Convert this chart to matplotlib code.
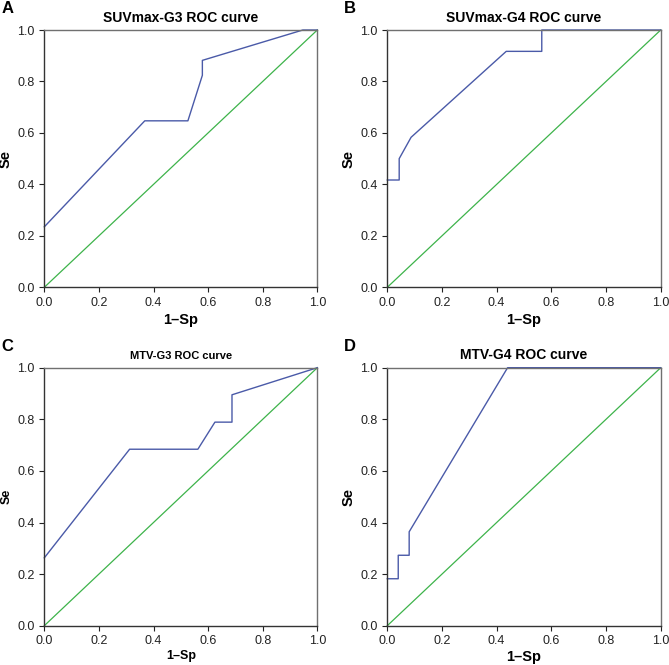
import matplotlib
matplotlib.use("Agg")
import matplotlib.pyplot as plt

plt.rcParams['font.family'] = ['Liberation Sans', 'DejaVu Sans']

# puntos de las curvas ROC (1-Sp, Se)
suv_g3_x = [0.0, 0.368, 0.526, 0.579, 0.579, 0.947, 1.0]
suv_g3_y = [0.235, 0.647, 0.647, 0.824, 0.882, 1.0, 1.0]

suv_g4_x = [0.0, 0.0435, 0.0435, 0.087, 0.435, 0.565, 0.565, 1.0]
suv_g4_y = [0.417, 0.417, 0.5, 0.583, 0.917, 0.917, 1.0, 1.0]

mtv_g3_x = [0.0, 0.3125, 0.5625, 0.625, 0.6875, 0.6875, 1.0]
mtv_g3_y = [0.263, 0.684, 0.684, 0.789, 0.789, 0.895, 1.0]

mtv_g4_x = [0.0, 0.04, 0.04, 0.08, 0.08, 0.44, 1.0]
mtv_g4_y = [0.182, 0.182, 0.273, 0.273, 0.364, 1.0, 1.0]

titles = ['SUVmax-G3 ROC curve', 'SUVmax-G4 ROC curve', 'MTV-G3 ROC curve', 'MTV-G4 ROC curve']
letters = ['A', 'B', 'C', 'D']
ticks = [0.0, 0.2, 0.4, 0.6, 0.8, 1.0]

curves = [(suv_g3_x, suv_g3_y), (suv_g4_x, suv_g4_y), (mtv_g3_x, mtv_g3_y), (mtv_g4_x, mtv_g4_y)]

# posiciones de los ejes en pixeles de la figura (left, bottom, right, top)
W, H = 669, 665
boxes = [(44.3, 287.3, 317.3, 30.0),
         (387.3, 287.3, 660.7, 30.0),
         (44.3, 625.7, 317.3, 367.7),
         (387.3, 625.7, 660.7, 367.7)]

fig = plt.figure(figsize=(W / 100, H / 100), dpi=100)

for i in range(4):
    l, b, r, t = boxes[i]
    ax = fig.add_axes([l / W, 1 - b / H, (r - l) / W, (b - t) / H])
    x, y = curves[i]
    ax.plot([0, 1], [0, 1], color='#3db34a', lw=0.9, clip_on=False)
    ax.plot(x, y, color='#4a5aa8', lw=1.0, clip_on=False)
    ax.set_xlim(0, 1)
    ax.set_ylim(0, 1)
    ax.set_xticks(ticks)
    ax.set_yticks(ticks)
    ax.set_xticklabels(['%.1f' % v for v in ticks])
    ax.set_yticklabels(['%.1f' % v for v in ticks])
    ax.tick_params(direction='out', length=3.5, width=0.8, labelsize=9, colors='#222222', pad=3.5)
    for s in ['left', 'bottom']:
        ax.spines[s].set_color('#333333')
        ax.spines[s].set_linewidth(1.0)
    for s in ['top', 'right']:
        ax.spines[s].set_color('#707070')
        ax.spines[s].set_linewidth(1.0)
    if i == 2:
        ft, fl = 8, 9
    else:
        ft, fl = 10, 10.5
    ax.set_title(titles[i], fontsize=ft, fontweight='bold', pad=6)
    if i < 2:
        lp = 3
    else:
        lp = 1.5
    ax.set_xlabel('1\u2013Sp', fontsize=fl, fontweight='bold', labelpad=lp)
    ax.set_ylabel('Se', fontsize=fl, fontweight='bold', labelpad=3)
    # letra del panel
    fig.text((l - 43) / W, 1 - (t - 29) / H, letters[i], fontsize=12, fontweight='bold', va='top', ha='left')

fig.savefig('out.png', dpi=100)
